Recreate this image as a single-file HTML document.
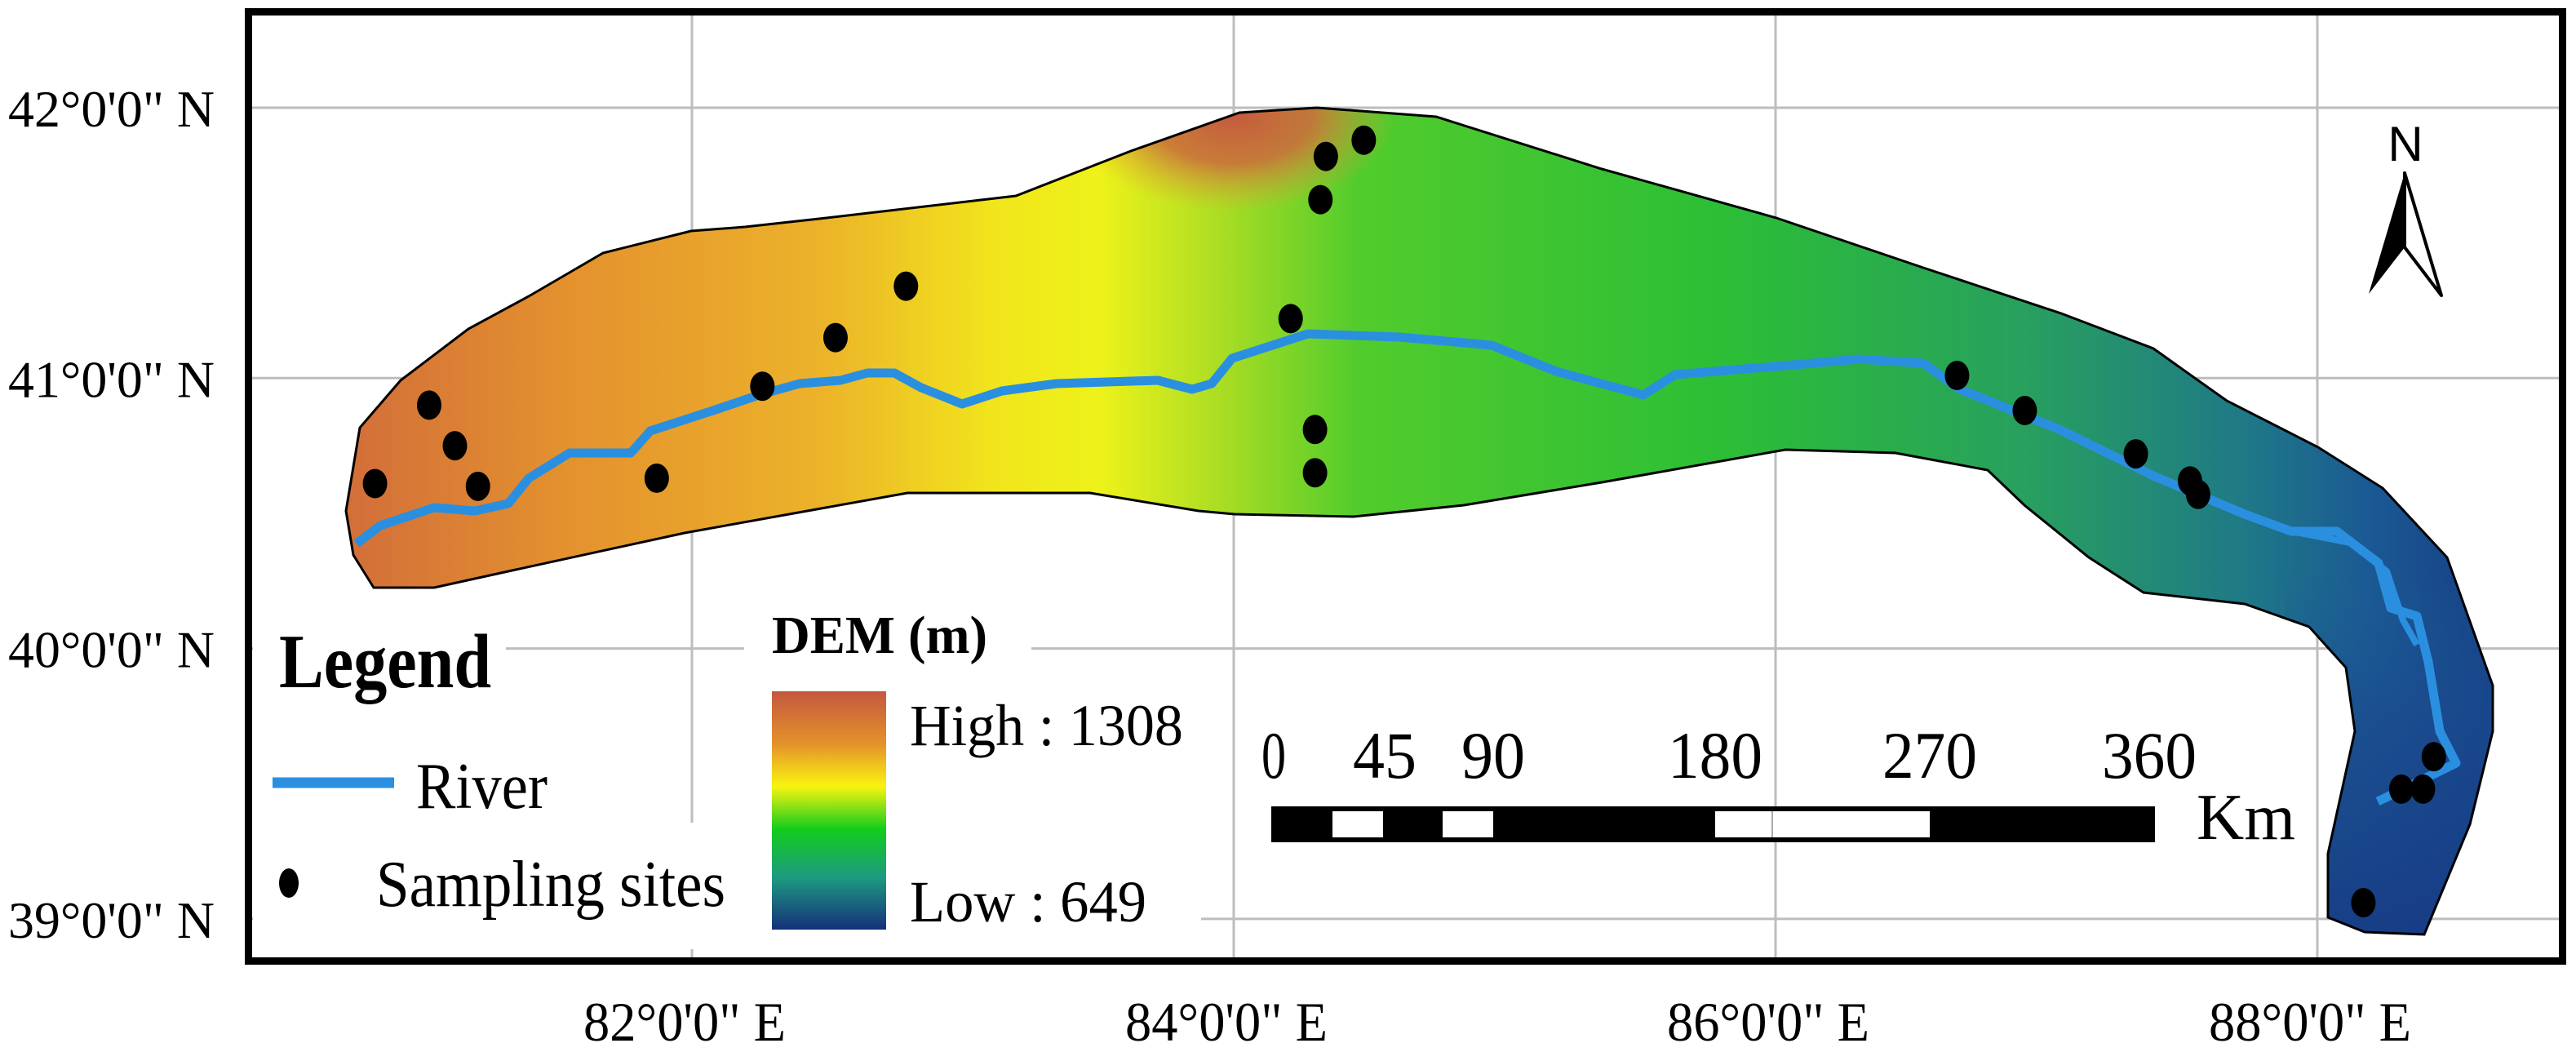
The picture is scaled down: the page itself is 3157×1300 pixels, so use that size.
<!DOCTYPE html>
<html><head><meta charset="utf-8"><style>
html,body{margin:0;padding:0;background:#fff;}
svg{display:block;font-family:"Liberation Serif",serif;}
</style></head><body>
<svg id="map" width="3157" height="1300" viewBox="0 0 3157 1300" xmlns="http://www.w3.org/2000/svg">
<defs>
<linearGradient id="demGrad" gradientUnits="userSpaceOnUse" x1="424" y1="0" x2="3060" y2="0">
<stop offset="0" stop-color="#d26e3a"/>
<stop offset="0.105" stop-color="#e4922e"/>
<stop offset="0.22" stop-color="#ecb22a"/>
<stop offset="0.3" stop-color="#f1e41c"/>
<stop offset="0.35" stop-color="#eef21a"/>
<stop offset="0.41" stop-color="#a6dc24"/>
<stop offset="0.47" stop-color="#52cc2c"/>
<stop offset="0.64" stop-color="#2cbe36"/>
<stop offset="0.78" stop-color="#28a05e"/>
<stop offset="0.88" stop-color="#1f7a86"/>
<stop offset="0.94" stop-color="#1b5a94"/>
<stop offset="1" stop-color="#163c84"/>
</linearGradient>
<radialGradient id="peak" gradientUnits="userSpaceOnUse" cx="1510" cy="140" r="200" gradientTransform="translate(1510,140) scale(1,0.6) translate(-1510,-140)">
<stop offset="0" stop-color="#c45a3e" stop-opacity="1"/>
<stop offset="0.5" stop-color="#cd6a3c" stop-opacity="0.85"/>
<stop offset="1" stop-color="#e6a034" stop-opacity="0"/>
</radialGradient>
<linearGradient id="hookGrad" gradientUnits="userSpaceOnUse" x1="0" y1="700" x2="0" y2="1150">
<stop offset="0" stop-color="#1c5a94" stop-opacity="0"/>
<stop offset="0.4" stop-color="#1a4a8e" stop-opacity="0.7"/>
<stop offset="1" stop-color="#173a84" stop-opacity="0.9"/>
</linearGradient>
<linearGradient id="barGrad" x1="0" y1="0" x2="0" y2="1">
<stop offset="0" stop-color="#c4573f"/>
<stop offset="0.22" stop-color="#e4922a"/>
<stop offset="0.4" stop-color="#f8f410"/>
<stop offset="0.58" stop-color="#12cc1c"/>
<stop offset="0.78" stop-color="#1e9a80"/>
<stop offset="1" stop-color="#14307a"/>
</linearGradient>
<clipPath id="outlineClip"><polygon id="clipPoly" points=""/></clipPath>
</defs>
<g id="grid"></g>
<g id="mapLayer"></g>
<g id="sites"></g>

<rect x="310" y="770" width="310" height="60" fill="#fff"/>
<rect x="310" y="1008" width="610" height="155" fill="#fff"/>
<rect x="912" y="770" width="352" height="60" fill="#fff"/>
<rect x="912" y="830" width="560" height="335" fill="#fff"/>

<rect x="304.5" y="14.5" width="2836" height="1163" fill="none" stroke="#000" stroke-width="9"/>

<g id="axisLabels"></g>

<text x="342" y="842" font-size="94" font-weight="bold" textLength="260" lengthAdjust="spacingAndGlyphs">Legend</text>
<line x1="334" y1="959" x2="483" y2="959" stroke="#2b8fe0" stroke-width="13"/>
<text x="510" y="990" font-size="80" textLength="161" lengthAdjust="spacingAndGlyphs">River</text>
<ellipse cx="354" cy="1082" rx="12" ry="18" fill="#000"/>
<text x="461" y="1110" font-size="80" textLength="428" lengthAdjust="spacingAndGlyphs">Sampling sites</text>

<text x="946" y="800" font-size="66" font-weight="bold" textLength="264" lengthAdjust="spacingAndGlyphs">DEM (m)</text>
<rect x="946" y="847" width="140" height="292" fill="url(#barGrad)"/>
<text x="1115" y="913" font-size="72" textLength="335" lengthAdjust="spacingAndGlyphs">High : 1308</text>
<text x="1115" y="1129" font-size="72" textLength="290" lengthAdjust="spacingAndGlyphs">Low : 649</text>

<g>
<rect x="1558" y="988" width="1083" height="44" fill="#000"/>
<rect x="1633" y="994" width="62" height="32" fill="#fff"/>
<rect x="1768" y="994" width="62" height="32" fill="#fff"/>
<rect x="2102" y="994" width="263" height="32" fill="#fff"/>
<line x1="2172" y1="994" x2="2172" y2="1026" stroke="#aaa" stroke-width="2"/>
</g>
<g font-size="82" text-anchor="middle">
<text x="1561" y="953" textLength="30" lengthAdjust="spacingAndGlyphs">0</text>
<text x="1697" y="953" textLength="78" lengthAdjust="spacingAndGlyphs">45</text>
<text x="1830" y="953" textLength="78" lengthAdjust="spacingAndGlyphs">90</text>
<text x="2102" y="953" textLength="116" lengthAdjust="spacingAndGlyphs">180</text>
<text x="2365" y="953" textLength="116" lengthAdjust="spacingAndGlyphs">270</text>
<text x="2634" y="953" textLength="116" lengthAdjust="spacingAndGlyphs">360</text>
</g>
<text x="2692" y="1028" font-size="80" textLength="121" lengthAdjust="spacingAndGlyphs">Km</text>

<g>
<text x="2948" y="197" font-family="Liberation Sans, sans-serif" font-size="60" text-anchor="middle">N</text>
<path d="M2947,212 L2903,360 L2947,303 Z" fill="#000"/>
<path d="M2947,212 L2992,362 L2947,303 Z" fill="#fff" stroke="#000" stroke-width="4" stroke-linejoin="round"/>
</g>

<script>
var latTicks = [42, 41, 40, 39];
var lonTicks = [82, 84, 86, 88];
var latLabels = ["42°0'0\" N", "41°0'0\" N", "40°0'0\" N", "39°0'0\" N"];
var lonLabels = ["82°0'0\" E", "84°0'0\" E", "86°0'0\" E", "88°0'0\" E"];
var siteLon = [80.83, 81.03, 81.125, 81.21, 81.87, 82.26, 82.53, 82.79, 84.21, 84.30, 84.30, 84.32, 84.34, 84.48, 86.67, 86.92, 87.33, 87.53, 87.56, 88.43, 88.31, 88.39, 88.17];
var siteLat = [40.61, 40.90, 40.75, 40.60, 40.63, 40.97, 41.15, 41.34, 41.22, 40.81, 40.65, 41.66, 41.82, 41.88, 41.01, 40.88, 40.72, 40.62, 40.57, 39.60, 39.48, 39.48, 39.06];

function xOf(lon){ return 848 + (lon - 82) * 332; }
function yOf(lat){ return 132 + (42 - lat) * 331.3; }

var NS = "http://www.w3.org/2000/svg";
function mk(tag, attrs, parent){
  var e = document.createElementNS(NS, tag);
  for (var k in attrs) e.setAttribute(k, attrs[k]);
  parent.appendChild(e);
  return e;
}
var grid = document.getElementById('grid');
latTicks.forEach(function(t){
  var l = mk('line', {x1:309, x2:3136, y1:yOf(t), y2:yOf(t), stroke:'#bdbdbd', 'stroke-width':3}, grid);
  
  
});
lonTicks.forEach(function(t){
  var l = mk('line', {x1:xOf(t), x2:xOf(t), y1:19, y2:1173, stroke:'#bdbdbd', 'stroke-width':3}, grid);
  
  
});
var ax = document.getElementById('axisLabels');
latTicks.forEach(function(t, i){
  var tx = mk('text', {x:10, y:yOf(t)+23, 'font-size':64, textLength:253, lengthAdjust:'spacingAndGlyphs'}, ax);
  tx.textContent = latLabels[i];
  
  
});
lonTicks.forEach(function(t, i){
  var tx = mk('text', {x:xOf(t)-133, y:1275, 'font-size':68, textLength:248, lengthAdjust:'spacingAndGlyphs'}, ax);
  tx.textContent = lonLabels[i];
  
  
});

var outlinePts = "424,626 441,524 491,466 574,403 648,363 739,310 847,283 913,278 1013,267 1245,240 1386,185 1519,138 1614,132 1760,143 1963,207 2177,267 2357,328 2526,384 2639,427 2729,491 2841,548 2920,598 2999,683 3055,840 3055,896 3027,1010 2971,1145 2898,1142 2853,1124 2853,1046 2886,896 2875,818 2830,768 2751,740 2627,726 2560,683 2481,619 2436,576 2323,555 2188,551 1963,591 1794,619 1659,633 1513,630 1469,626 1336,604 1112,604 839,653 632,698 532,720 458,720 433,680";
var riverPts = "437,666 466,644 532,622 582,626 623,617 648,586 698,555 773,555 797,528 880,501 930,484 980,470 1030,466 1063,457 1096,457 1129,475 1179,495 1228,479 1295,470 1419,466 1461,477 1485,470 1510,439 1603,409 1715,413 1828,423 1907,455 2014,484 2053,459 2188,448 2278,440 2357,445 2402,477 2526,527 2639,583 2751,630 2808,651 2864,651 2915,690 2930,745 2962,755 2976,811 2990,896 3010,935 2914,982";
var river2Pts = "2808,651 2880,665 2925,700 2945,760 2962,790";
var ml = document.getElementById('mapLayer');
document.getElementById('clipPoly').setAttribute('points', outlinePts);
var poly = mk('polygon', {points:outlinePts, fill:'url(#demGrad)'}, ml);


var cg = mk('g', {'clip-path':'url(#outlineClip)'}, ml);
var pk = mk('ellipse', {cx:1510, cy:140, rx:220, ry:130, fill:'url(#peak)'}, cg);


var hk = mk('rect', {x:2800, y:700, width:300, height:460, fill:'url(#hookGrad)'}, cg);


var ol = mk('polygon', {points:outlinePts, fill:'none', stroke:'#000', 'stroke-width':3}, ml);


var rv = mk('polyline', {points:riverPts, fill:'none', stroke:'#2b8fe0', 'stroke-width':11, 'stroke-linejoin':'round'}, ml);


var rv2 = mk('polyline', {points:river2Pts, fill:'none', stroke:'#2b8fe0', 'stroke-width':8, 'stroke-linejoin':'round'}, ml);



var sg = document.getElementById('sites');
siteLon.forEach(function(lon, i){
  var c = mk('ellipse', {cx:xOf(lon), cy:yOf(siteLat[i]), rx:15, ry:18, fill:'#000'}, sg);
  
  
});
</script>
</svg>
</body></html>
